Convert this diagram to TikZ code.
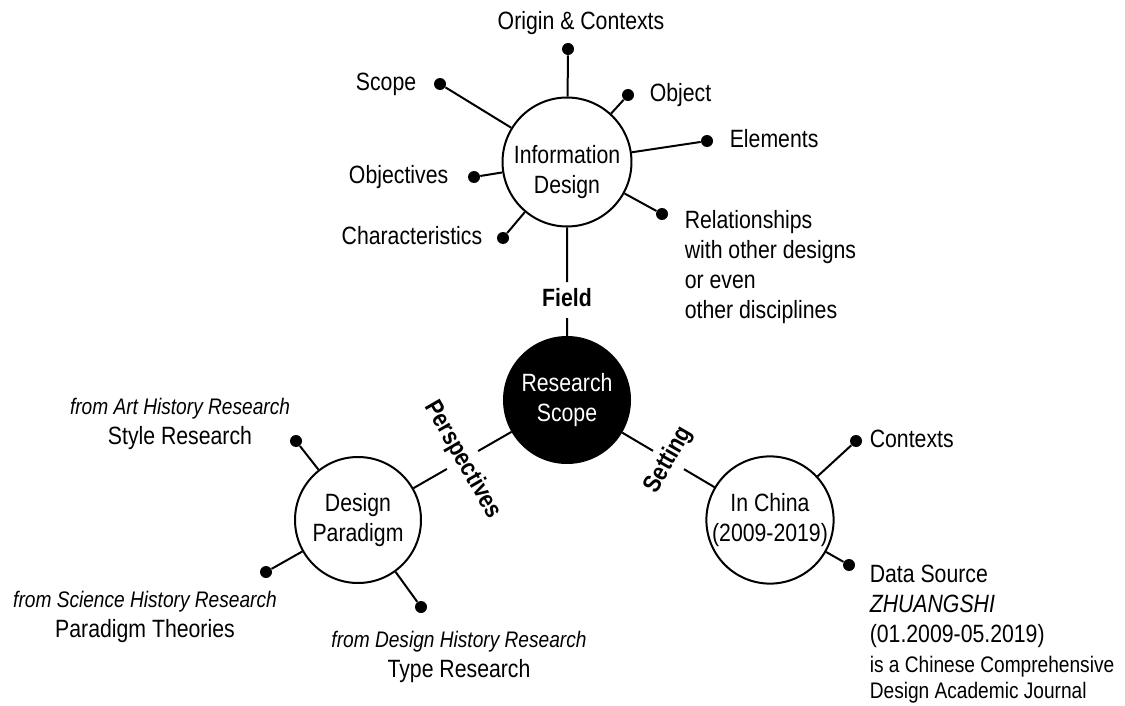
\documentclass[tikz,border=0pt]{standalone}
\usepackage{fontspec}
\setmainfont{Liberation Sans}[FakeStretch=0.85]
\usetikzlibrary{positioning, calc}

\newcommand{\mainsize}{\fontsize{12.5}{15}\selectfont}
\newcommand{\subsize}{\fontsize{11.25}{13.5}\selectfont}

\begin{document}
\begin{tikzpicture}[
		x=0.5pt, y=-0.5pt,
		every node/.style={font=\mainsize},
		hubcircle/.style={circle, draw, line width=1pt, minimum size=63pt, inner sep=0pt, align=center},
		corecircle/.style={hubcircle, fill=black, text=white},
		leafdot/.style={circle, fill=black, inner sep=0pt, minimum size=6pt},
		leaflabel/.style={inner sep=0pt, text height=9pt, text depth=2.6pt},
		leafblock/.style={inner sep=0pt, align=left},
		sourceblock/.style={inner sep=0pt, align=center},
		axislabel/.style={font=\mainsize\bfseries, inner sep=3pt, text height=9pt, text depth=2.6pt},
		spoke/.style={line width=1pt},
		node distance=8pt,
		]
		\useasboundingbox (0,0) rectangle (1125,706);
		
		% Core and the three themes
		\node[corecircle] (core) at (567,400) {Research\\Scope};
		\node[hubcircle] (info) at (567,162) {\rule{0pt}{19pt}Information\\Design};
		\node[hubcircle] (para) at (358,520) {Design\\Paradigm};
		\node[hubcircle] (china) at (770,520) {In China\\(2009-2019)};
		
		% Links from the core, cut by their labels
		\node[axislabel] (field) at ($(info)!0.58!(core)$) {Field};
		\node[axislabel, rotate=-60] (persp) at ($(core)!0.5!(para)$) {Perspectives};
		\node[axislabel, rotate=60] (setting) at ($(core)!0.5!(china)$) {Setting};
		\draw[spoke] (info) -- (field) -- (core);
		\draw[spoke] (core) -- (persp) -- (para);
		\draw[spoke] (core) -- (setting) -- (china);
		
		% Information Design: dots
		\node[leafdot] (d-origin) at (568,49) {};
		\node[leafdot] (d-scope) at (440,84) {};
		\node[leafdot] (d-object) at (628,95) {};
		\node[leafdot] (d-elements) at (707,141) {};
		\node[leafdot] (d-objectives) at (474,177) {};
		\node[leafdot] (d-character) at (503,238) {};
		\node[leafdot] (d-relation) at (662,214) {};
		\foreach \d in {origin, scope, object, elements, objectives, character, relation}
			\draw[spoke] (info) -- (d-\d);
		
		% Information Design: labels
		\node[leaflabel, above=3.5pt of d-origin, xshift=6.5pt] (l-origin) {Origin \& Contexts};
		\node[leaflabel, left=8.5pt of d-scope] (l-scope) {Scope};
		\node[leaflabel, right=7.5pt of d-object] (l-object) {Object};
		\node[leaflabel, right=8pt of d-elements] (l-elements) {Elements};
		\node[leaflabel, left=9.5pt of d-objectives] (l-objectives) {Objectives};
		\node[leaflabel, left=7pt of d-character] (l-character) {Characteristics};
		\node[leafblock, right=8pt of d-relation, anchor=north west, yshift=2pt] (l-relation) {Relationships\\with other designs\\or even\\other disciplines};
		
		% Design Paradigm
		\node[leafdot] (d-style) at (296,441) {};
		\node[leafdot] (d-science) at (266,572) {};
		\node[leafdot] (d-type) at (421,607) {};
		\foreach \d in {style, science, type}
			\draw[spoke] (para) -- (d-\d);
		\node[sourceblock] (l-style) at (180,424) {{\subsize\itshape from Art History Research}\\Style Research};
		\node[sourceblock] (l-science) at (145,617) {{\subsize\itshape from Science History Research}\\Paradigm Theories};
		\node[sourceblock] (l-type) at (459,657) {{\subsize\itshape from Design History Research}\\Type Research};
		
		% In China
		\node[leafdot] (d-contexts) at (856,441) {};
		\node[leafdot] (d-source) at (849,565) {};
		\foreach \d in {contexts, source}
			\draw[spoke] (china) -- (d-\d);
		\node[leaflabel, right=3.5pt of d-contexts] (l-contexts) {Contexts};
		\node[leafblock, right=7pt of d-source, anchor=north west] (l-source) {Data Source\\\textit{ZHUANGSHI}\\(01.2009-05.2019)\\{\subsize is a Chinese Comprehensive}\\[-2pt]{\subsize Design Academic Journal}};
		
	\end{tikzpicture}
\end{document}
